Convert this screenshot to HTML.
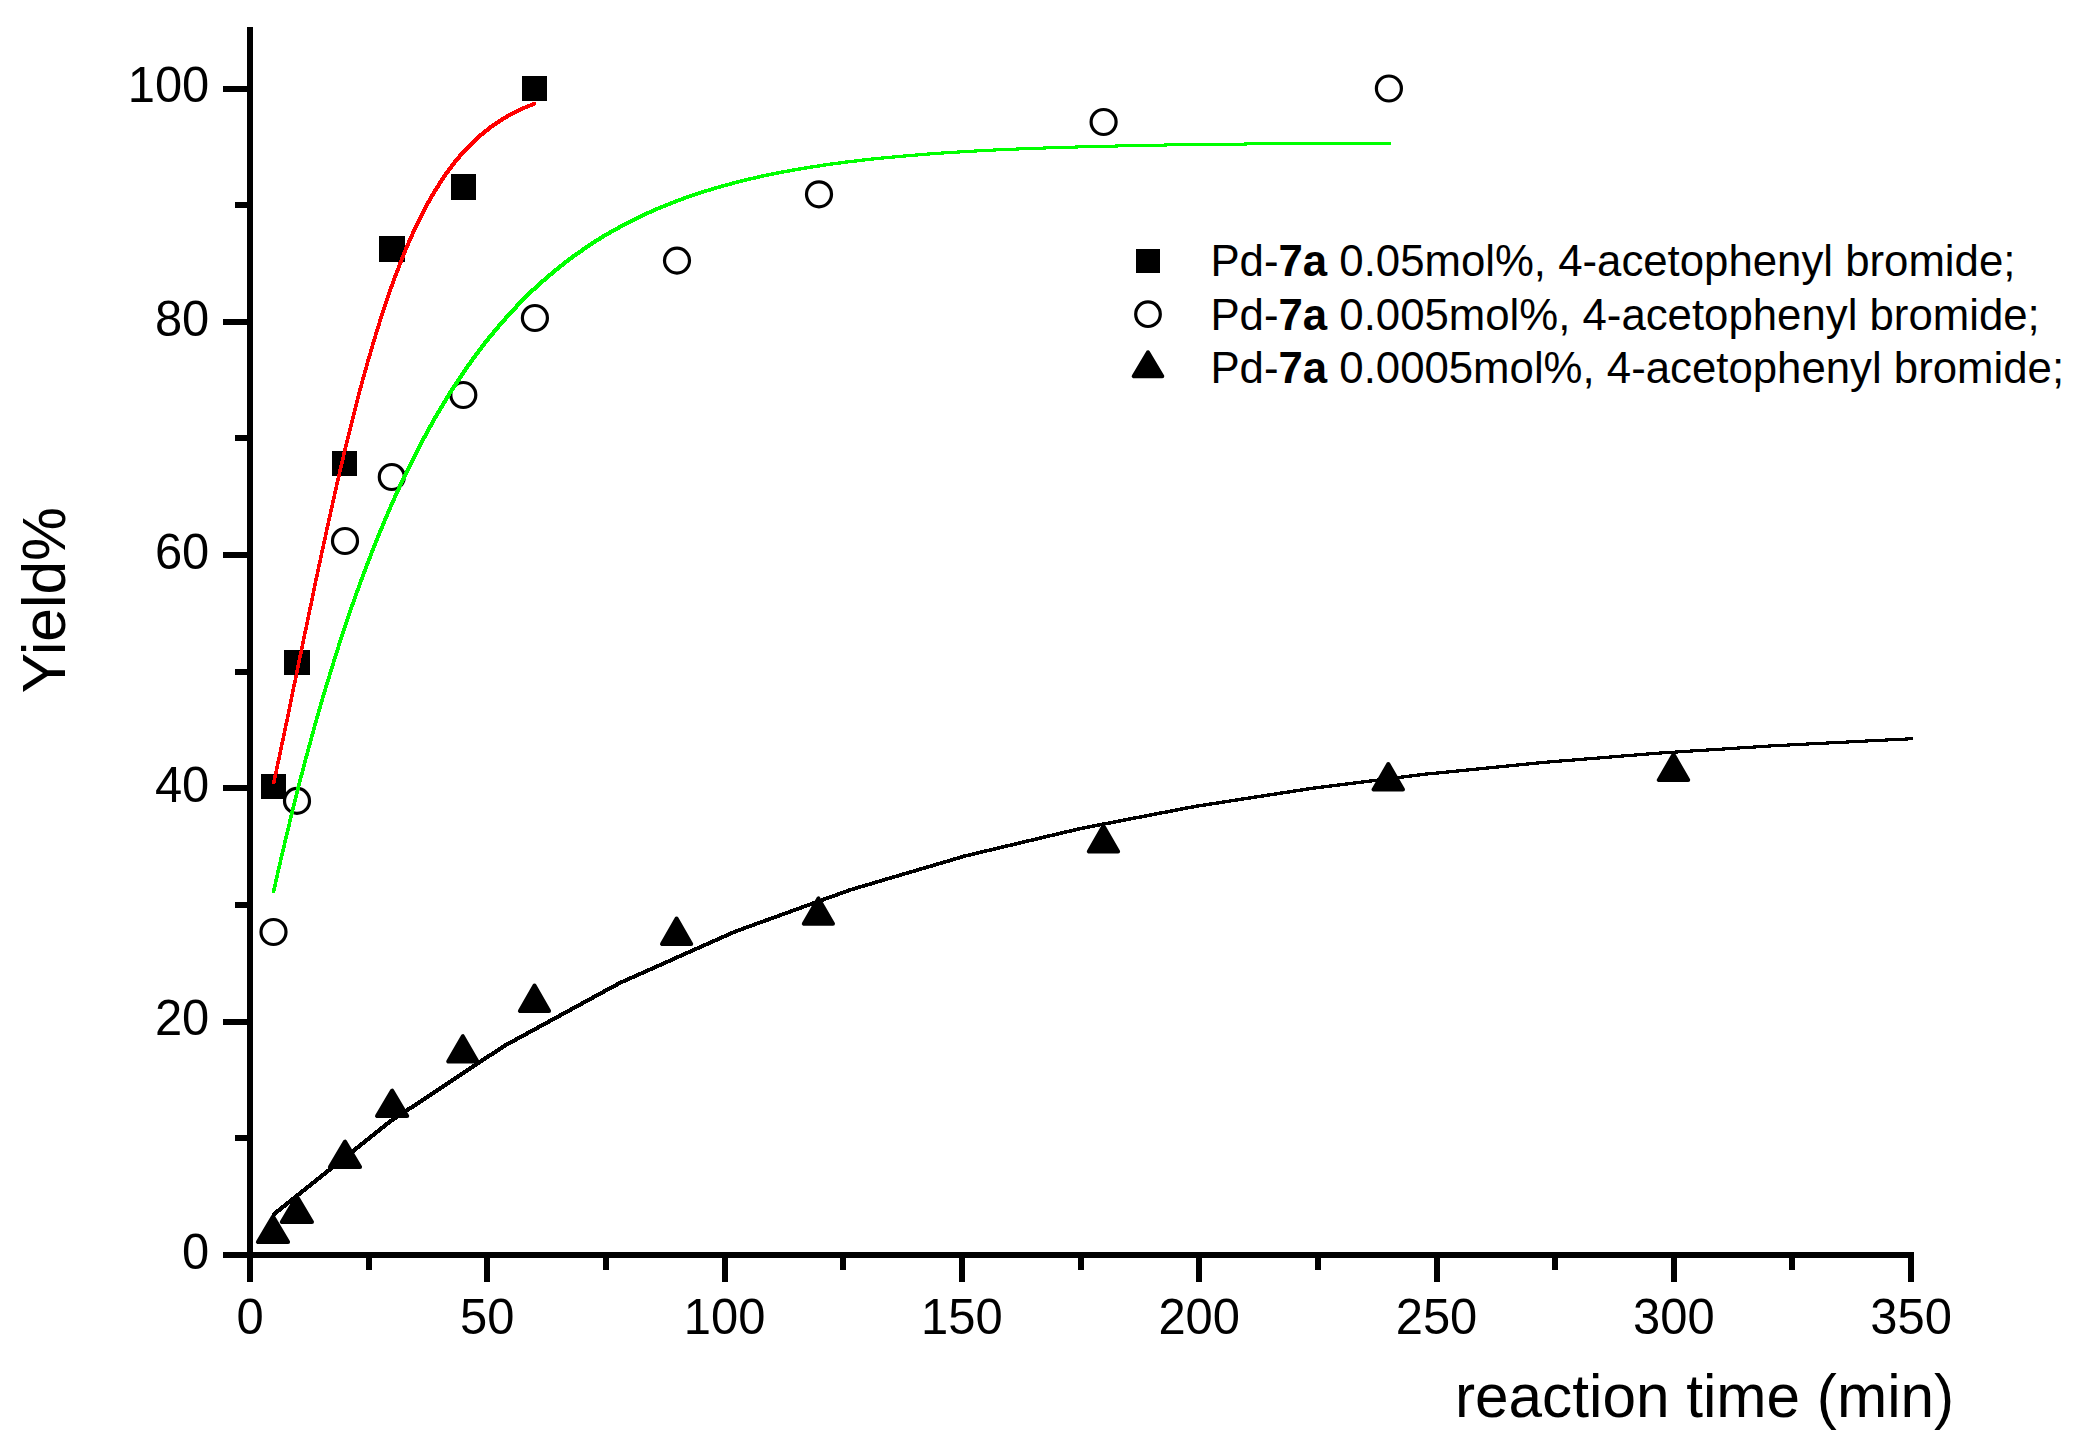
<!DOCTYPE html>
<html lang="en"><head><meta charset="utf-8"><title>Yield vs reaction time</title>
<style>html,body{margin:0;padding:0;background:#fff;overflow:hidden}svg{display:block}text{font-family:"Liberation Sans",Arial,Helvetica,sans-serif;fill:#000}</style>
</head><body>
<svg width="2090" height="1441" viewBox="0 0 2090 1441">
<rect width="2090" height="1441" fill="#fff"/>
<g fill="#000" shape-rendering="crispEdges">
<rect x="247" y="27" width="6" height="1255" rx="1"/>
<rect x="223" y="1252" width="1691" height="6" rx="1"/>
<rect x="235" y="1135" width="15" height="6" rx="1.5"/>
<rect x="223" y="1019" width="27" height="6" rx="1.5"/>
<rect x="235" y="902" width="15" height="6" rx="1.5"/>
<rect x="223" y="785" width="27" height="6" rx="1.5"/>
<rect x="235" y="669" width="15" height="6" rx="1.5"/>
<rect x="223" y="552" width="27" height="6" rx="1.5"/>
<rect x="235" y="435" width="15" height="6" rx="1.5"/>
<rect x="223" y="319" width="27" height="6" rx="1.5"/>
<rect x="235" y="202" width="15" height="6" rx="1.5"/>
<rect x="223" y="86" width="27" height="6" rx="1.5"/>
<rect x="366" y="1255" width="6" height="15" rx="1.5"/>
<rect x="484" y="1255" width="6" height="27" rx="1.5"/>
<rect x="603" y="1255" width="6" height="15" rx="1.5"/>
<rect x="722" y="1255" width="6" height="27" rx="1.5"/>
<rect x="840" y="1255" width="6" height="15" rx="1.5"/>
<rect x="959" y="1255" width="6" height="27" rx="1.5"/>
<rect x="1078" y="1255" width="6" height="15" rx="1.5"/>
<rect x="1196" y="1255" width="6" height="27" rx="1.5"/>
<rect x="1315" y="1255" width="6" height="15" rx="1.5"/>
<rect x="1434" y="1255" width="6" height="27" rx="1.5"/>
<rect x="1552" y="1255" width="6" height="15" rx="1.5"/>
<rect x="1671" y="1255" width="6" height="27" rx="1.5"/>
<rect x="1789" y="1255" width="6" height="15" rx="1.5"/>
<rect x="1908" y="1255" width="6" height="27" rx="1.5"/>
</g>
<g font-size="48.9px">
<text transform="translate(209.3,1268.7) scale(1,1.02)" text-anchor="end">0</text>
<text transform="translate(209.3,1035.4) scale(1,1.02)" text-anchor="end">20</text>
<text transform="translate(209.3,802.1) scale(1,1.02)" text-anchor="end">40</text>
<text transform="translate(209.3,568.8) scale(1,1.02)" text-anchor="end">60</text>
<text transform="translate(209.3,335.5) scale(1,1.02)" text-anchor="end">80</text>
<text transform="translate(209.3,102.2) scale(1,1.02)" text-anchor="end">100</text>
<text transform="translate(250.0,1334) scale(1,1.02)" text-anchor="middle">0</text>
<text transform="translate(487.3,1334) scale(1,1.02)" text-anchor="middle">50</text>
<text transform="translate(724.6,1334) scale(1,1.02)" text-anchor="middle">100</text>
<text transform="translate(961.9,1334) scale(1,1.02)" text-anchor="middle">150</text>
<text transform="translate(1199.2,1334) scale(1,1.02)" text-anchor="middle">200</text>
<text transform="translate(1436.5,1334) scale(1,1.02)" text-anchor="middle">250</text>
<text transform="translate(1673.8,1334) scale(1,1.02)" text-anchor="middle">300</text>
<text transform="translate(1911.1,1334) scale(1,1.02)" text-anchor="middle">350</text>
</g>
<text x="1954.2" y="1417" font-size="60.3px" text-anchor="end">reaction time (min)</text>
<text transform="translate(65,693.2) rotate(-90)" font-size="60.5px">Yield%</text>
<g fill="#000" shape-rendering="crispEdges">
<rect x="261" y="774" width="25" height="25"/>
<rect x="284" y="650" width="26" height="25"/>
<rect x="332" y="451" width="25" height="25"/>
<rect x="379" y="236" width="26" height="26"/>
<rect x="451" y="174" width="25" height="26"/>
<rect x="522" y="76" width="25" height="25"/>
<rect x="1136" y="249" width="24" height="24"/>
</g>
<g fill="none" stroke="#000" stroke-width="3.2">
<circle cx="273.5" cy="932.0" r="12.5"/>
<circle cx="297.0" cy="800.9" r="12.5"/>
<circle cx="345.0" cy="541.0" r="12.5"/>
<circle cx="391.8" cy="477.0" r="12.5"/>
<circle cx="463.3" cy="395.0" r="12.5"/>
<circle cx="534.9" cy="318.0" r="12.5"/>
<circle cx="677.0" cy="260.6" r="12.5"/>
<circle cx="819.0" cy="194.3" r="12.5"/>
<circle cx="1103.6" cy="122.0" r="12.5"/>
<circle cx="1388.9" cy="88.5" r="12.5"/>
<circle cx="1148" cy="314.2" r="12.3"/>
</g>
<g fill="#000" stroke="#000" stroke-width="4" stroke-linejoin="round">
<polygon points="273.0,1216.6 257.9,1242.0 288.1,1242.0"/>
<polygon points="296.9,1196.6 281.8,1222.0 312.0,1222.0"/>
<polygon points="345.0,1141.6 329.9,1167.0 360.1,1167.0"/>
<polygon points="392.1,1090.6 377.0,1116.0 407.2,1116.0"/>
<polygon points="462.8,1036.2 448.2,1061.6 477.4,1061.6"/>
<polygon points="534.5,985.6 519.9,1011.0 549.1,1011.0"/>
<polygon points="676.6,918.6 662.0,944.0 691.2,944.0"/>
<polygon points="818.4,898.4 803.8,923.8 833.0,923.8"/>
<polygon points="1103.4,826.1 1088.8,851.5 1118.1,851.5"/>
<polygon points="1388.3,764.1 1373.6,789.5 1403.0,789.5"/>
<polygon points="1673.5,754.6 1658.8,780.0 1688.2,780.0"/>
<polygon points="1148.0,352.3 1133.7,376.3 1162.3,376.3"/>
</g>
<g stroke="none" shape-rendering="crispEdges">
<polygon fill="#ff0000" points="272.2,781.4 276.0,763.7 279.8,745.7 283.6,727.7 287.4,709.5 291.1,691.2 294.9,672.9 298.7,654.6 302.5,636.2 306.3,618.0 310.1,599.8 313.8,581.8 317.6,563.9 321.4,546.2 325.2,528.8 329.0,511.5 332.8,494.6 336.5,478.0 340.3,461.7 344.1,445.8 347.9,430.2 351.7,415.0 355.5,400.2 359.2,385.8 363.0,371.9 366.8,358.4 370.6,345.3 374.4,332.6 378.2,320.4 381.9,308.7 385.7,297.3 389.5,286.5 393.3,276.0 397.1,266.0 400.9,256.3 404.6,247.1 408.4,238.3 412.2,229.9 416.0,221.9 419.8,214.2 423.6,206.9 427.3,200.0 431.1,193.4 434.9,187.1 438.7,181.1 442.5,175.4 446.2,170.1 450.0,164.9 453.8,160.1 457.6,155.5 461.4,151.2 465.2,147.1 468.9,143.2 472.7,139.5 476.5,136.0 480.3,132.7 484.1,129.6 487.9,126.7 491.6,123.9 495.4,121.3 499.2,118.8 503.0,116.5 506.8,114.3 510.6,112.2 514.3,110.2 518.1,108.4 521.9,106.7 525.7,105.0 529.5,103.5 533.3,102.0 536.3,102.0 536.3,105.0 532.5,106.5 528.7,108.0 524.9,109.7 521.1,111.4 517.3,113.2 513.6,115.2 509.8,117.3 506.0,119.5 502.2,121.8 498.4,124.3 494.6,126.9 490.9,129.7 487.1,132.6 483.3,135.7 479.5,139.0 475.7,142.5 471.9,146.2 468.2,150.1 464.4,154.2 460.6,158.5 456.8,163.1 453.0,167.9 449.2,173.1 445.5,178.4 441.7,184.1 437.9,190.1 434.1,196.4 430.3,203.0 426.6,209.9 422.8,217.2 419.0,224.9 415.2,232.9 411.4,241.3 407.6,250.1 403.9,259.3 400.1,269.0 396.3,279.0 392.5,289.5 388.7,300.3 384.9,311.7 381.2,323.4 377.4,335.6 373.6,348.3 369.8,361.4 366.0,374.9 362.2,388.8 358.5,403.2 354.7,418.0 350.9,433.2 347.1,448.8 343.3,464.7 339.5,481.0 335.8,497.6 332.0,514.5 328.2,531.8 324.4,549.2 320.6,566.9 316.8,584.8 313.1,602.8 309.3,621.0 305.5,639.2 301.7,657.6 297.9,675.9 294.1,694.2 290.4,712.5 286.6,730.7 282.8,748.7 279.0,766.7 275.2,784.4 272.2,784.4"/>
<polygon fill="#00ff00" points="272.2,889.5 277.7,865.1 283.3,841.3 288.8,818.3 294.3,796.0 299.8,774.3 305.3,753.4 310.8,733.1 316.3,713.4 321.8,694.3 327.4,675.9 332.9,658.0 338.4,640.7 343.9,623.9 349.4,607.7 354.9,592.0 360.4,576.8 366.0,562.1 371.5,547.8 377.0,534.1 382.5,520.7 388.0,507.9 393.5,495.4 399.0,483.3 404.5,471.7 410.1,460.4 415.6,449.5 421.1,439.0 426.6,428.8 432.1,418.9 437.6,409.4 443.1,400.2 448.6,391.3 454.2,382.7 459.7,374.4 465.2,366.3 470.7,358.6 476.2,351.1 481.7,343.8 487.2,336.8 492.8,330.1 498.3,323.5 503.8,317.2 509.3,311.1 514.8,305.2 520.3,299.5 525.8,294.0 531.3,288.7 536.9,283.6 542.4,278.7 547.9,273.9 553.4,269.3 558.9,264.8 564.4,260.5 569.9,256.3 575.4,252.3 581.0,248.5 586.5,244.7 592.0,241.1 597.5,237.6 603.0,234.2 608.5,231.0 614.0,227.9 619.6,224.8 625.1,221.9 630.6,219.1 636.1,216.4 641.6,213.7 647.1,211.2 652.6,208.7 658.1,206.4 663.7,204.1 669.2,201.9 674.7,199.7 680.2,197.7 685.7,195.7 691.2,193.8 696.7,192.0 702.2,190.2 707.8,188.5 713.3,186.8 718.8,185.2 724.3,183.6 729.8,182.2 735.3,180.7 740.8,179.3 746.4,178.0 751.9,176.7 757.4,175.4 762.9,174.2 768.4,173.1 773.9,171.9 779.4,170.9 784.9,169.8 790.5,168.8 796.0,167.8 801.5,166.9 807.0,166.0 812.5,165.1 818.0,164.3 827.5,162.9 841.9,160.9 856.2,159.2 870.6,157.6 885.0,156.1 899.3,154.8 913.7,153.6 928.0,152.4 942.4,151.4 956.7,150.5 971.1,149.7 985.5,148.9 999.8,148.2 1014.2,147.6 1028.5,147.0 1042.9,146.5 1057.3,146.0 1071.6,145.6 1086.0,145.2 1100.3,144.8 1114.7,144.5 1129.1,144.2 1143.4,143.9 1157.8,143.6 1172.1,143.4 1186.5,143.2 1200.9,143.0 1215.2,142.8 1229.6,142.7 1243.9,142.5 1258.3,142.4 1272.7,142.3 1287.0,142.2 1301.4,142.1 1315.7,142.0 1330.1,141.9 1344.5,141.8 1358.8,141.8 1373.2,141.7 1387.5,141.7 1390.5,141.7 1390.5,144.7 1376.2,144.7 1361.8,144.8 1347.5,144.8 1333.1,144.9 1318.7,145.0 1304.4,145.1 1290.0,145.2 1275.7,145.3 1261.3,145.4 1246.9,145.5 1232.6,145.7 1218.2,145.8 1203.9,146.0 1189.5,146.2 1175.1,146.4 1160.8,146.6 1146.4,146.9 1132.1,147.2 1117.7,147.5 1103.3,147.8 1089.0,148.2 1074.6,148.6 1060.3,149.0 1045.9,149.5 1031.5,150.0 1017.2,150.6 1002.8,151.2 988.5,151.9 974.1,152.7 959.7,153.5 945.4,154.4 931.0,155.4 916.7,156.6 902.3,157.8 888.0,159.1 873.6,160.6 859.2,162.2 844.9,163.9 830.5,165.9 821.0,167.3 815.5,168.1 810.0,169.0 804.5,169.9 799.0,170.8 793.5,171.8 787.9,172.8 782.4,173.9 776.9,174.9 771.4,176.1 765.9,177.2 760.4,178.4 754.9,179.7 749.4,181.0 743.8,182.3 738.3,183.7 732.8,185.2 727.3,186.6 721.8,188.2 716.3,189.8 710.8,191.5 705.2,193.2 699.7,195.0 694.2,196.8 688.7,198.7 683.2,200.7 677.7,202.7 672.2,204.9 666.7,207.1 661.1,209.4 655.6,211.7 650.1,214.2 644.6,216.7 639.1,219.4 633.6,222.1 628.1,224.9 622.6,227.8 617.0,230.9 611.5,234.0 606.0,237.2 600.5,240.6 595.0,244.1 589.5,247.7 584.0,251.5 578.4,255.3 572.9,259.3 567.4,263.5 561.9,267.8 556.4,272.3 550.9,276.9 545.4,281.7 539.9,286.6 534.3,291.7 528.8,297.0 523.3,302.5 517.8,308.2 512.3,314.1 506.8,320.2 501.3,326.5 495.8,333.1 490.2,339.8 484.7,346.8 479.2,354.1 473.7,361.6 468.2,369.3 462.7,377.4 457.2,385.7 451.6,394.3 446.1,403.2 440.6,412.4 435.1,421.9 429.6,431.8 424.1,442.0 418.6,452.5 413.1,463.4 407.5,474.7 402.0,486.3 396.5,498.4 391.0,510.9 385.5,523.7 380.0,537.1 374.5,550.8 369.0,565.1 363.4,579.8 357.9,595.0 352.4,610.7 346.9,626.9 341.4,643.7 335.9,661.0 330.4,678.9 324.8,697.3 319.3,716.4 313.8,736.1 308.3,756.4 302.8,777.3 297.3,799.0 291.8,821.3 286.3,844.3 280.7,868.1 275.2,892.5 272.2,892.5"/>
<polygon fill="#000" points="272.2,1212.9 387.6,1120.7 502.9,1044.3 618.2,981.5 733.5,930.1 848.9,888.3 964.2,854.3 1079.5,826.9 1194.9,804.7 1310.2,786.9 1425.5,772.5 1540.8,761.0 1656.2,751.7 1771.5,744.3 1886.8,738.4 1909.6,737.3 1912.6,737.3 1912.6,740.3 1889.8,741.4 1774.5,747.3 1659.2,754.7 1543.8,764.0 1428.5,775.5 1313.2,789.9 1197.9,807.7 1082.5,829.9 967.2,857.3 851.9,891.3 736.5,933.1 621.2,984.5 505.9,1047.3 390.6,1123.7 275.2,1215.9 272.2,1215.9"/>
</g>
<g font-size="43.75px">
<text x="1210.4" y="275.8">Pd-<tspan font-weight="bold">7a</tspan> 0.05mol%, 4-acetophenyl bromide;</text>
<text x="1210.4" y="329.5">Pd-<tspan font-weight="bold">7a</tspan> 0.005mol%, 4-acetophenyl bromide;</text>
<text x="1210.4" y="383.2">Pd-<tspan font-weight="bold">7a</tspan> 0.0005mol%, 4-acetophenyl bromide;</text>
</g>
</svg></body></html>
